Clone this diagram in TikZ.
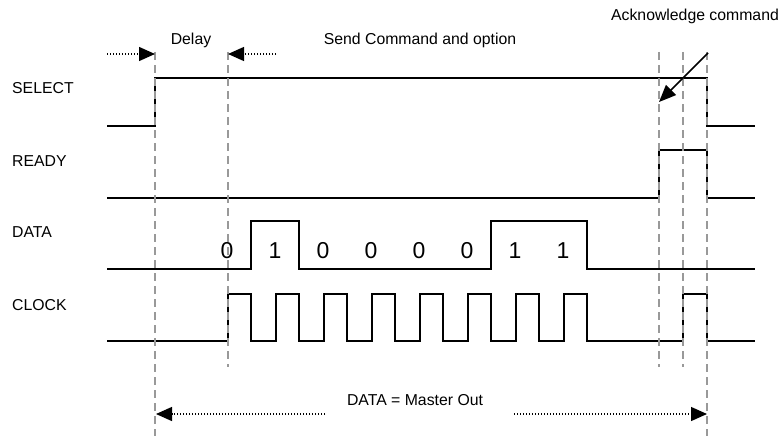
\documentclass[tikz,border=0pt]{standalone}
\usepackage{fontspec}
\setmainfont{Liberation Sans}
\usetikzlibrary{arrows.meta}
\tikzstyle{signal}=[
    line width = 1.6pt,
    black
]
\tikzstyle{guide}=[
    line width = 1.4pt,
    gray!80,
    dash pattern = on 8pt off 5pt
]
\tikzstyle{span}=[
    line width = 1.3pt,
    dash pattern = on 1.3pt off 1.7pt,
    -{Triangle[length=16pt, width=14pt]}
]

\begin{document}
\begin{tikzpicture}[x=1pt, y=-1pt, lbl/.style = {font=\fontsize{15.8}{18}\selectfont, inner sep=0pt, anchor=base}]
        \useasboundingbox (0,0) rectangle (783,436);

        % signal names
        \node[lbl, anchor=base west] (sel) at (12,93) {SELECT};
        \node[lbl, anchor=base west] (rdy) at (12,166) {READY};
        \node[lbl, anchor=base west] (dat) at (12,237) {DATA};
        \node[lbl, anchor=base west] (clk) at (12,310) {CLOCK};

        % waveforms
        \draw[signal] (107,126) -- (155,126) -- (155,78) -- (707,78) -- (707,126) -- (755,126);
        \draw[signal] (107,198) -- (659,198) -- (659,150) -- (707,150) -- (707,198) -- (755,198);
        \draw[signal] (107,269) -- (251,269) -- (251,221) -- (299,221) -- (299,269)
            -- (491,269) -- (491,221) -- (587,221) -- (587,269) -- (755,269);
        \draw[signal] (107,341) foreach \x in {228,276,...,564} {
            -- (\x,341) -- (\x,294) -- (\x+23,294) -- (\x+23,341) }
            -- (683,341) -- (683,294) -- (707,294) -- (707,341) -- (755,341);

        % bits
        \foreach \b [count=\i from 0] in {0,1,0,0,0,0,1,1}
            \node[font=\fontsize{23}{26}\selectfont, inner sep=0pt, anchor=base] (b\i) at (227+48*\i,258) {\b};

        % guides
        \coordinate (g1) at (155,52);
        \coordinate (g2) at (228,52);
        \coordinate (g3) at (659,52);
        \coordinate (g4) at (683,52);
        \coordinate (g5) at (707,52);
        \draw[guide] (g1) -- (155,436);
        \draw[guide] (g2) -- (228,367);
        \draw[guide] (g3) -- (659,367);
        \draw[guide] (g4) -- (683,367);
        \draw[guide] (g5) -- (707,436);

        % spans
        \coordinate (dl0) at (107,54);
        \coordinate (dl1) at (155,54);
        \coordinate (sc0) at (276,54);
        \coordinate (sc1) at (228,54);
        \coordinate (mo0) at (325,414);
        \coordinate (mo1) at (156,414);
        \coordinate (mo2) at (514,414);
        \coordinate (mo3) at (707,414);
        \draw[span] (dl0) -- (dl1);
        \draw[span] (sc0) -- (sc1);
        \draw[span] (mo0) -- (mo1);
        \draw[span] (mo2) -- (mo3);

        \node[lbl] (delay) at (191,45) {Delay};
        \node[lbl] (send) at (420,45) {Send Command and option};
        \node[lbl] (ack) at (695,21) {Acknowledge command};
        \node[lbl] (mout) at (415,405) {DATA = Master Out};

        % acknowledge pointer
        \coordinate (a0) at (708,53);
        \coordinate (a1) at (659,102);
        \draw[line width=1.6pt, -{Triangle[length=17pt, width=14pt]}] (a0) -- (a1);

    \end{tikzpicture}
\end{document}
